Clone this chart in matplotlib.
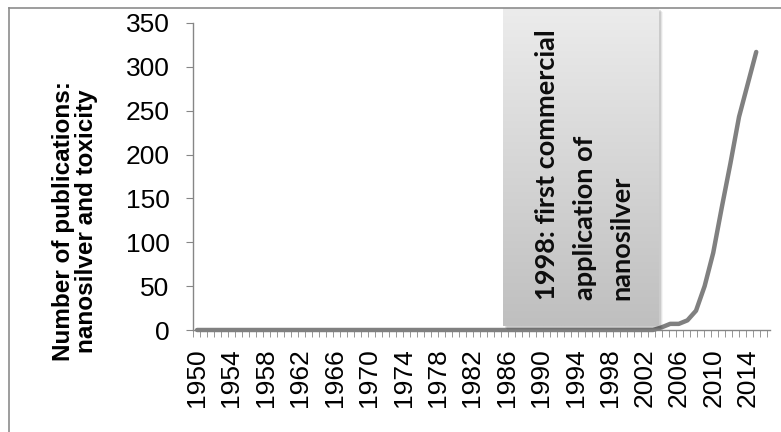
import numpy as np
import matplotlib.pyplot as plt

years = list(range(1950, 2016))
counts = [0] * 54 + [3, 7, 7, 11, 22, 50, 88, 140, 190, 243, 280, 317]

ytick_vals = [0, 50, 100, 150, 200, 250, 300, 350]
xtick_years = list(range(1950, 2015, 4))
ylabel = "Number of publications:\nnanosilver and toxicity"
note_lines = ["1998: first commercial", "application of", "nanosilver"]

W, H = 781, 432
fig = plt.figure(figsize=(W / 100, H / 100), dpi=100)

# axes placed in pixels: left 193, right 770, top 23, bottom 330
ax = fig.add_axes([193 / W, 1 - 330 / H, 577 / W, 307 / H])
ax.plot(years, counts, color="#808080", lw=3.2, solid_joinstyle="round",
        solid_capstyle="round", zorder=3, clip_on=False)

ax.set_ylim(0, 350)
ax.set_xlim(1949.53, 2016.6)
ax.set_yticks(ytick_vals)
ax.set_xticks(xtick_years)
ax.set_xticklabels([str(y) for y in xtick_years], rotation=90)
ax.set_xticks(np.arange(1949.53, 2016.7, 0.814), minor=True)

for s in ["top", "right"]:
    ax.spines[s].set_visible(False)
for s in ["left", "bottom"]:
    ax.spines[s].set_color("#868686")
    ax.spines[s].set_linewidth(1.0)

ax.tick_params(axis="y", direction="out", length=5, color="#868686",
               labelsize=19, pad=12)
ax.tick_params(axis="x", which="major", length=0, labelsize=19, pad=13)
ax.tick_params(axis="x", which="minor", direction="out", length=5,
               color="#868686")
for lab in ax.get_xticklabels() + ax.get_yticklabels():
    lab.set_fontfamily("Liberation Sans")

fig.text(75 / W, 1 - 221 / H, ylabel, rotation=90, ha="center", va="center",
         multialignment="center", fontsize=17.5, fontweight="bold",
         family="Liberation Sans", linespacing=1.0)

# outer frame (left and top only)
fig.add_artist(plt.Line2D([9 / W, 9 / W], [0, 1 - 8 / H], color="#8c8c8c",
                          lw=1.2, transform=fig.transFigure))
fig.add_artist(plt.Line2D([9 / W, 1], [1 - 8 / H, 1 - 8 / H], color="#8c8c8c",
                          lw=1.2, transform=fig.transFigure))

# annotation box with gradient and soft shadow
bx0, bx1, by0, by1 = 503, 659, 8, 326
for i, a in enumerate([0.10, 0.07, 0.04]):
    sh = fig.add_axes([(bx0 + 2 + i) / W, 1 - (by1 + 2 + i) / H,
                       (bx1 - bx0) / W, (by1 - by0) / H])
    sh.set_facecolor((0, 0, 0, a))
    sh.set_xticks([])
    sh.set_yticks([])
    for s in sh.spines.values():
        s.set_visible(False)
box = fig.add_axes([bx0 / W, 1 - by1 / H, (bx1 - bx0) / W, (by1 - by0) / H])
grad = np.linspace(0, 1, 256).reshape(-1, 1)
top_c = np.array([0xec, 0xec, 0xec]) / 255
bot_c = np.array([0xbf, 0xbf, 0xbf]) / 255
img = top_c[None, None, :] * (1 - grad[:, :, None]) + bot_c[None, None, :] * grad[:, :, None]
box.imshow(img, aspect="auto", extent=[0, 1, 0, 1], origin="upper")
box.set_xlim(0, 1)
box.set_ylim(0, 1)
box.axis("off")

for xc, txt in zip([547, 585, 621], note_lines):
    fig.text(xc / W, 1 - 300 / H, txt, rotation=90, rotation_mode="anchor",
             ha="left", va="center", fontsize=19.5, fontweight="bold",
             family="Lato", color="#0d0d0d")

fig.savefig("out.png", dpi=100)
